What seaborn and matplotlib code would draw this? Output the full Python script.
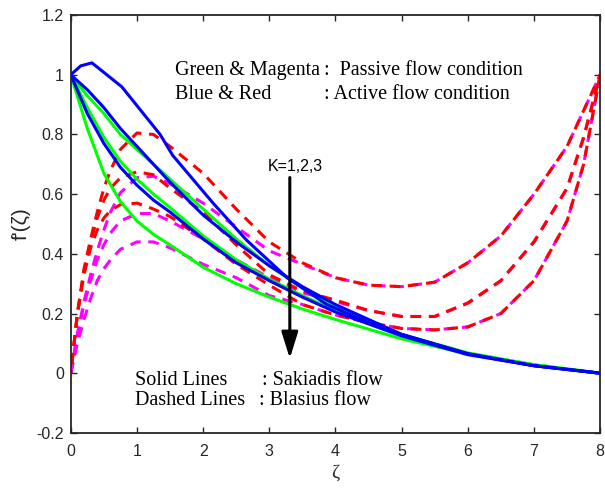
import numpy as np
import pandas as pd
import matplotlib
matplotlib.use("Agg")
import matplotlib.pyplot as plt
import seaborn as sns

# solid lines (Sakiadis flow)
zeta_s = [0, 0.25, 0.5, 0.75, 1, 1.25, 1.5, 2, 2.5, 3, 3.5, 4, 5, 6, 7, 8]
green_1 = [1, 0.93, 0.87, 0.80, 0.75, 0.70, 0.65, 0.55, 0.45, 0.36, 0.285, 0.225, 0.13, 0.068, 0.028, 0]
green_2 = [1, 0.89, 0.79, 0.71, 0.65, 0.60, 0.555, 0.46, 0.38, 0.315, 0.26, 0.21, 0.128, 0.066, 0.028, 0]
green_3 = [1, 0.82, 0.67, 0.575, 0.51, 0.465, 0.43, 0.355, 0.30, 0.255, 0.215, 0.18, 0.115, 0.065, 0.028, 0]
blue_2 = [1, 0.95, 0.89, 0.82, 0.76, 0.70, 0.64, 0.53, 0.44, 0.36, 0.29, 0.23, 0.13, 0.065, 0.025, 0]
blue_3 = [1, 0.87, 0.77, 0.69, 0.63, 0.58, 0.54, 0.45, 0.37, 0.31, 0.255, 0.205, 0.125, 0.062, 0.025, 0]

zeta_b1 = [0, 0.15, 0.32, 0.77, 1.35, 1.54, 2.15, 2.66, 3.27, 3.87, 4.5, 5, 6, 7, 8]
blue_1 = [1, 1.03, 1.04, 0.96, 0.80, 0.73, 0.57, 0.445, 0.32, 0.23, 0.17, 0.13, 0.065, 0.025, 0]

# dashed lines (Blasius flow)
zeta_d = [0, 0.1, 0.2, 0.3, 0.4, 0.5, 0.6, 0.75, 1, 1.25, 1.5, 2, 2.5, 3, 3.5, 4,
          4.5, 5, 5.5, 6, 6.5, 7, 7.5, 7.75, 8]
red_1 = [0, 0.2, 0.35, 0.45, 0.54, 0.62, 0.68, 0.75, 0.805, 0.80, 0.76, 0.67, 0.55, 0.44, 0.37, 0.32,
         0.295, 0.29, 0.305, 0.37, 0.46, 0.60, 0.76, 0.88, 1.0]
magenta_1 = [0, 0.13, 0.24, 0.33, 0.41, 0.48, 0.54, 0.605, 0.655, 0.66, 0.635, 0.57, 0.49, 0.41, 0.365, 0.32,
             0.295, 0.29, 0.305, 0.37, 0.46, 0.60, 0.76, 0.88, 1.0]
red_2 = [0, 0.2, 0.34, 0.44, 0.52, 0.58, 0.62, 0.655, 0.675, 0.665, 0.62, 0.54, 0.43, 0.33, 0.275, 0.245,
         0.21, 0.19, 0.19, 0.235, 0.31, 0.44, 0.62, 0.79, 1.0]
magenta_2 = [0, 0.13, 0.23, 0.31, 0.38, 0.43, 0.47, 0.51, 0.535, 0.535, 0.51, 0.45, 0.38, 0.32, 0.27, 0.24,
             0.21, 0.19, 0.19, 0.235, 0.31, 0.44, 0.62, 0.79, 1.0]
red_3 = [0, 0.2, 0.33, 0.42, 0.48, 0.52, 0.545, 0.565, 0.57, 0.55, 0.525, 0.45, 0.365, 0.295, 0.23, 0.195,
         0.17, 0.15, 0.145, 0.155, 0.2, 0.31, 0.51, 0.70, 1.0]
magenta_3 = [0, 0.1, 0.18, 0.25, 0.31, 0.35, 0.38, 0.415, 0.44, 0.44, 0.42, 0.365, 0.32, 0.26, 0.23, 0.195,
             0.17, 0.15, 0.145, 0.155, 0.2, 0.31, 0.51, 0.70, 1.0]

x_ticks = [0, 1, 2, 3, 4, 5, 6, 7, 8]
y_ticks = [-0.2, 0, 0.2, 0.4, 0.6, 0.8, 1, 1.2]
y_ticklabels = ["-0.2", "0", "0.2", "0.4", "0.6", "0.8", "1", "1.2"]

sns.set_style("ticks")
plt.rcParams['font.family'] = ['Liberation Sans', 'DejaVu Sans']
plt.rcParams['xtick.direction'] = 'in'
plt.rcParams['ytick.direction'] = 'in'

fig = plt.figure(figsize=(6.05, 4.88), dpi=100)
ax = fig.add_axes([0.117, 0.113, 0.875, 0.856])

lw = 2.2
dash_m = (0, (3.5, 2.5))
dash_r = (3.0, (3.5, 2.5))

# dashed lines, magenta under red so both colours alternate where they overlap
pairs = [(magenta_1, red_1), (magenta_2, red_2), (magenta_3, red_3)]
for mag, red in pairs:
    df = pd.DataFrame({'zeta': zeta_d, 'f': mag})
    sns.lineplot(data=df, x='zeta', y='f', color='magenta', lw=lw, ls=dash_m, sort=False,
                 estimator=None, ax=ax)
for mag, red in pairs:
    df = pd.DataFrame({'zeta': zeta_d, 'f': red})
    sns.lineplot(data=df, x='zeta', y='f', color='red', lw=lw, ls=dash_r, sort=False,
                 estimator=None, ax=ax)

for ys, col in [(green_1, '#00ff00'), (green_2, '#00ff00'), (green_3, '#00ff00'),
                (blue_2, 'blue'), (blue_3, 'blue')]:
    df = pd.DataFrame({'zeta': zeta_s, 'f': ys})
    sns.lineplot(data=df, x='zeta', y='f', color=col, lw=lw, sort=False,
                 estimator=None, ax=ax)

df = pd.DataFrame({'zeta': zeta_b1, 'f': blue_1})
sns.lineplot(data=df, x='zeta', y='f', color='blue', lw=lw, sort=False,
             estimator=None, ax=ax)

ax.set_xlim(0, 8)
ax.set_ylim(-0.2, 1.2)
ax.set_xticks(x_ticks)
ax.set_yticks(y_ticks)
ax.set_yticklabels(y_ticklabels)
ax.tick_params(labelsize=11.5, colors='#262626', top=True, right=True, length=4, width=1, pad=5)
ax.tick_params(axis='x', pad=8)
for s in ax.spines.values():
    s.set_linewidth(1.3)
    s.set_color('#262626')

ax.set_xlabel('ζ', family='Liberation Serif', fontsize=14, color='#262626', labelpad=4)
ax.set_ylabel("f'(ζ)", fontsize=15, color='#262626', labelpad=4)

serif = dict(family='Liberation Serif', fontsize=14.5, va='baseline', color='black')
ax.text(1.573, 0.998, 'Green & Magenta', **serif)
ax.text(3.82, 0.998, ':  Passive flow condition', **serif)
ax.text(1.573, 0.92, 'Blue & Red', **serif)
ax.text(3.82, 0.92, ': Active flow condition', **serif)
ax.text(0.968, -0.038, 'Solid Lines', **serif)
ax.text(2.89, -0.038, ': Sakiadis flow', **serif)
ax.text(0.968, -0.105, 'Dashed Lines', **serif)
ax.text(2.845, -0.105, ': Blasius flow', **serif)

ax.annotate('', xy=(3.31, 0.04), xytext=(3.31, 0.665),
            arrowprops=dict(arrowstyle='-|>,head_length=0.8,head_width=0.25',
                            color='black', lw=2.2, mutation_scale=20))
ax.text(3.39, 0.676, 'K=1,2,3', fontsize=11.5, ha='center', va='baseline', color='black')

plt.savefig('out.png', dpi=100)
